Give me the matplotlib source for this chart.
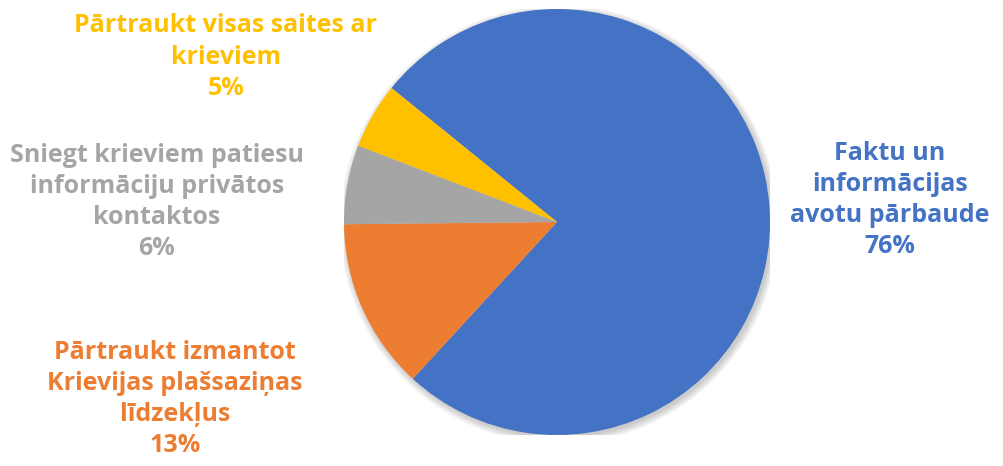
import matplotlib
matplotlib.use('Agg')
import matplotlib.pyplot as plt
from matplotlib.patches import Circle

# data (clockwise from the yellow/blue edge)
labels = ['Faktu un\ninformācijas\navotu pārbaude',
          'Pārtraukt izmantot\nKrievijas plašsaziņas\nlīdzekļus',
          'Sniegt krieviem patiesu\ninformāciju privātos\nkontaktos',
          'Pārtraukt visas saites ar\nkrieviem']
shares = [76, 13, 6, 5]
colors = ['#4472C4', '#ED7D31', '#A5A5A5', '#FFC000']

# where each label block sits (figure pixels, from top-left)
label_pos = [(890, 200), (175, 399), (157, 202), (226, 57)]

W, H = 1004, 466
fig = plt.figure(figsize=(W / 100, H / 100), dpi=100)

cx, cy, r = 557, 222, 213
ax = fig.add_axes([(cx - r) / W, (H - cy - r) / H, 2 * r / W, 2 * r / H])

# soft shadow around the pie
for i in range(6):
    ax.add_patch(Circle((0.01, -0.012), 1.0 + 0.006 * i, color='black',
                        alpha=0.035, lw=0, zorder=0))

ax.pie(shares, colors=colors, startangle=141, counterclock=False,
       wedgeprops=dict(linewidth=0), radius=1.0)
ax.set_xlim(-1, 1)
ax.set_ylim(-1, 1)
ax.set_aspect('equal')
ax.axis('off')

for lab, val, col, (x, y) in zip(labels, shares, colors, label_pos):
    fig.text(x / W, 1 - y / H, f'{lab}\n{val}%', ha='center', va='center',
             color=col, fontsize=18, fontweight='bold',
             family=['Open Sans', 'DejaVu Sans'], linespacing=1.32)

fig.savefig('out.png', dpi=100)
